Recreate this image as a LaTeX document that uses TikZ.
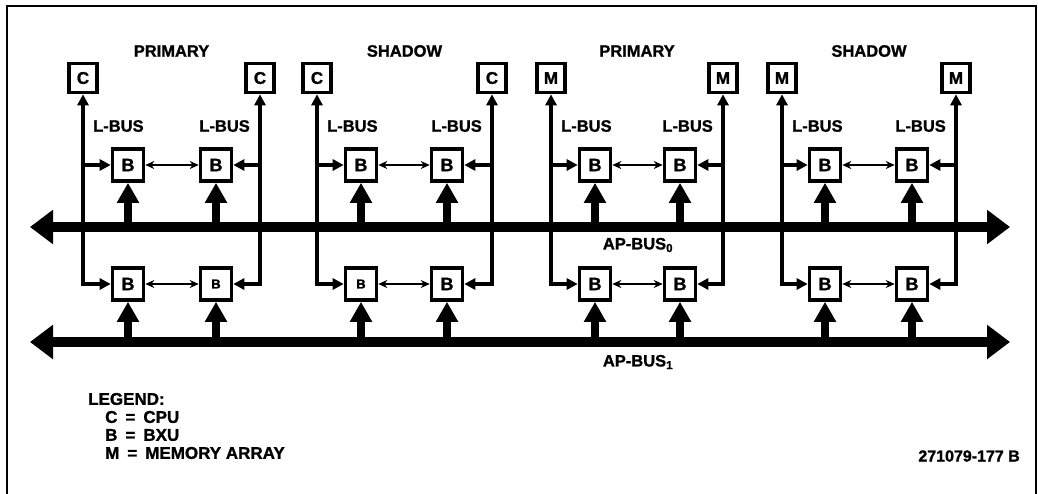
\documentclass[tikz,border=0pt]{standalone}
\usepackage{fontspec}
\setmainfont{Liberation Sans}[BoldFeatures={FakeBold=1.2}]
\usetikzlibrary{arrows.meta}
\begin{document}
\begin{tikzpicture}[x=1pt,y=-1pt,
  box/.style={draw,line width=3.6pt,minimum width=28pt,minimum height=29pt,inner sep=0pt,font=\bfseries\fontsize{17}{17}\selectfont},
  bxu/.style={draw,line width=3.6pt,minimum width=31pt,minimum height=32pt,inner sep=0pt,font=\bfseries\fontsize{18}{18}\selectfont},
  lbus/.style={line width=3.4pt,-{Triangle[length=11pt,width=11pt]}},
  lbus2/.style={line width=3.4pt,{Triangle[length=11pt,width=11pt]}-{Triangle[length=11pt,width=11pt]}},
  link/.style={line width=1.6pt,{Stealth[length=9pt,width=8pt]}-{Stealth[length=9pt,width=8pt]}},
  fat/.style={line width=8pt,-{Triangle[length=20pt,width=21pt]}},
  bus/.style={line width=10pt,{Triangle[length=23pt,width=33pt]}-{Triangle[length=23pt,width=33pt]}},
  lbl/.style={font=\bfseries\fontsize{16.5}{16.5}\selectfont,inner sep=0pt},
  leg/.style={font=\bfseries\fontsize{17}{17}\selectfont,inner sep=0pt,anchor=west}]
\useasboundingbox (0,0) rectangle (1038,493);
\draw[line width=2.6pt] (7,500) -- (7,6) -- (1036,6) -- (1036,500);
% buses
\coordinate (a0w) at (30,227); \coordinate (a0e) at (1010,227);
\coordinate (a1w) at (30,342); \coordinate (a1e) at (1010,342);
\draw[bus] (a0w) -- (a0e);
\draw[bus] (a1w) -- (a1e);
\node[lbl] (ap0) at (638,245) {AP-BUS\textsubscript{0}};
\node[lbl] (ap1) at (638,362) {AP-BUS\textsubscript{1}};
\foreach \i/\L/\Ba/\Bb/\R/\lab/\ch/\fa/\fb in {1/83/128/216/260/PRIMARY/C/18/13,2/317/361/447/492/SHADOW/C/13/18,3/551/595/680/723/PRIMARY/M/18/18,4/782/825/912/956/SHADOW/M/18/18}{
  \node[lbl] (t\i) at ({(\L+\R)/2},51) {\lab};
  \node[box] (cl\i) at (\L,78) {\ch};
  \node[box] (cr\i) at (\R,78) {\ch};
  \node[lbl,anchor=west] (lbla\i) at (\L+10,126) {L-BUS};
  \node[lbl,anchor=east] (lblb\i) at (\R-10,126) {L-BUS};
  \node[bxu] (ua\i) at (\Ba,165) {B};
  \node[bxu] (ub\i) at (\Bb,165) {B};
  \node[bxu] (la\i) at (\Ba,284) {\fontsize{\fa}{\fa}\selectfont B};
  \node[bxu] (lb\i) at (\Bb,284) {\fontsize{\fb}{\fb}\selectfont B};
  \draw[lbus2] (la\i.west) -| (cl\i.south);
  \draw[lbus] (ua\i.west -| cl\i.south) -- (ua\i.west);
  \draw[lbus2] (lb\i.east) -| (cr\i.south);
  \draw[lbus] (ub\i.east -| cr\i.south) -- (ub\i.east);
  \draw[link] (ua\i) -- (ub\i);
  \draw[link] (la\i) -- (lb\i);
  \coordinate (pa\i) at (\Ba,227);
  \coordinate (pb\i) at (\Bb,227);
  \coordinate (qa\i) at (\Ba,342);
  \coordinate (qb\i) at (\Bb,342);
  \draw[fat] (pa\i) -- (ua\i.south);
  \draw[fat] (pb\i) -- (ub\i.south);
  \draw[fat] (qa\i) -- (la\i.south);
  \draw[fat] (qb\i) -- (lb\i.south);
}
% legend
\node[leg] (lg0) at (88,399) {LEGEND:};
\node[leg] (lg1) at (105,417) {C\hspace{8pt}=\hspace{8pt}CPU};
\node[leg] (lg2) at (105,435) {B\hspace{8pt}=\hspace{8pt}BXU};
\node[leg] (lg3) at (105,453) {M\hspace{8pt}=\hspace{8pt}MEMORY ARRAY};
\node[lbl,anchor=east,font=\bfseries\fontsize{16}{16}\selectfont] (code) at (1020,456) {271079-177 B};
\end{tikzpicture}
\end{document}
